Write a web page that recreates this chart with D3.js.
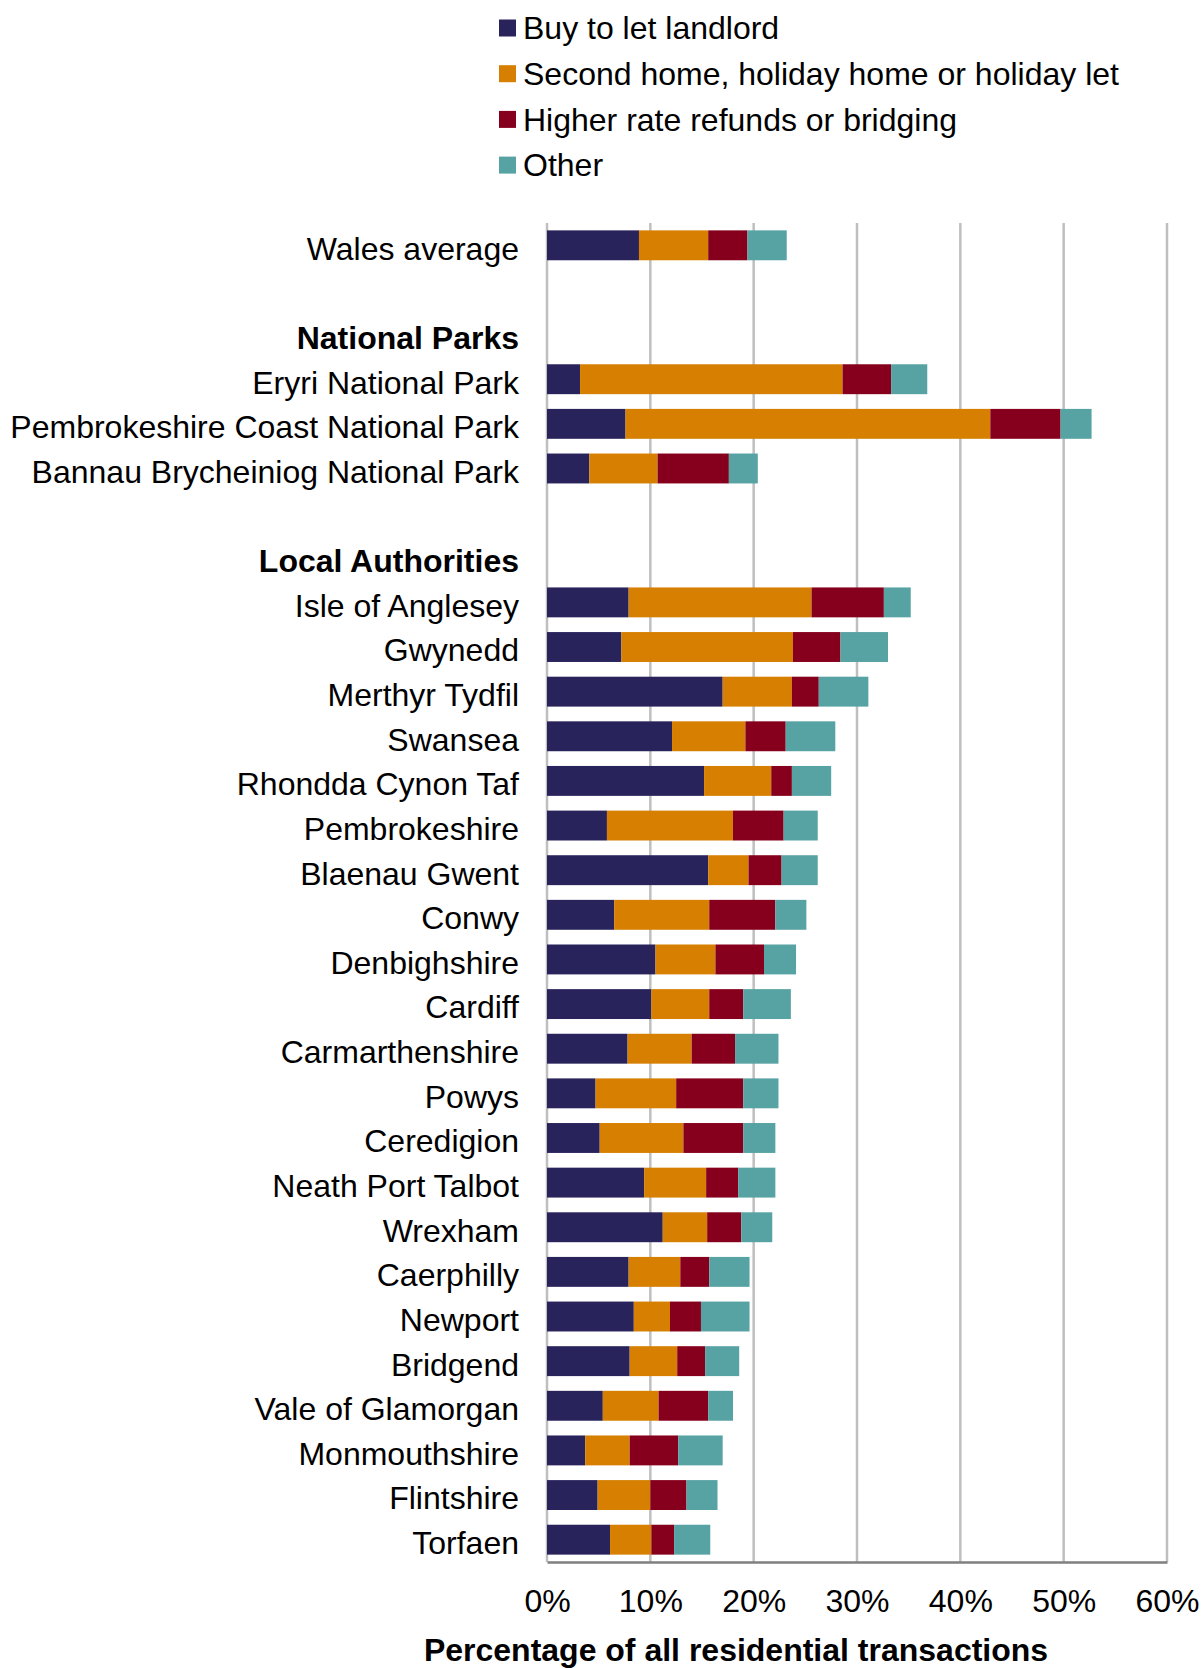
<!DOCTYPE html>
<html>
<head>
<meta charset="utf-8">
<script src="https://cdn.jsdelivr.net/npm/d3@7"></script>
<style>
  body { margin: 0; background: #fff; }
  svg { display: block; font-family: "Liberation Sans", Arial, sans-serif; }
</style>
</head>
<body>
<svg id="chart" width="1201" height="1668"></svg>
<script>
// Rows from top to bottom; "" entries are spacer rows, headers are drawn bold
const rowLabels = [
    "Wales average", "",
    "National Parks", "Eryri National Park", "Pembrokeshire Coast National Park", "Bannau Brycheiniog National Park", " ",
    "Local Authorities", "Isle of Anglesey", "Gwynedd", "Merthyr Tydfil", "Swansea", "Rhondda Cynon Taf",
    "Pembrokeshire", "Blaenau Gwent", "Conwy", "Denbighshire", "Cardiff", "Carmarthenshire", "Powys",
    "Ceredigion", "Neath Port Talbot", "Wrexham", "Caerphilly", "Newport", "Bridgend",
    "Vale of Glamorgan", "Monmouthshire", "Flintshire", "Torfaen"
];
const headers = ["National Parks", "Local Authorities"];

const areas = [
    "Wales average", "Eryri National Park", "Pembrokeshire Coast National Park", "Bannau Brycheiniog National Park",
    "Isle of Anglesey", "Gwynedd", "Merthyr Tydfil", "Swansea", "Rhondda Cynon Taf",
    "Pembrokeshire", "Blaenau Gwent", "Conwy", "Denbighshire", "Cardiff", "Carmarthenshire", "Powys",
    "Ceredigion", "Neath Port Talbot", "Wrexham", "Caerphilly", "Newport", "Bridgend",
    "Vale of Glamorgan", "Monmouthshire", "Flintshire", "Torfaen"
];

// percentages of all residential transactions
const buyToLet   = [8.9, 3.2, 7.6, 4.1, 7.9, 7.2, 17.0, 12.1, 15.2, 5.8, 15.6, 6.5, 10.5, 10.1, 7.8, 4.7, 5.1, 9.4, 11.2, 7.9, 8.4, 8.0, 5.4, 3.7, 4.9, 6.1];
const secondHome = [6.7, 25.4, 35.3, 6.6, 17.7, 16.6, 6.7, 7.1, 6.5, 12.2, 3.9, 9.2, 5.8, 5.6, 6.2, 7.8, 8.1, 6.0, 4.3, 5.0, 3.5, 4.6, 5.4, 4.3, 5.1, 4.0];
const higherRate = [3.8, 4.7, 6.8, 6.9, 7.0, 4.6, 2.6, 3.9, 2.0, 4.9, 3.2, 6.4, 4.7, 3.3, 4.2, 6.5, 5.8, 3.1, 3.3, 2.8, 3.0, 2.7, 4.8, 4.7, 3.5, 2.2];
const other      = [3.8, 3.5, 3.0, 2.8, 2.6, 4.6, 4.8, 4.8, 3.8, 3.3, 3.5, 3.0, 3.1, 4.6, 4.2, 3.4, 3.1, 3.6, 3.0, 3.9, 4.7, 3.3, 2.4, 4.3, 3.0, 3.5];

const seriesNames = ["Buy to let landlord", "Second home, holiday home or holiday let", "Higher rate refunds or bridging", "Other"];
const seriesColors = ["#29235c", "#d67f00", "#86001d", "#57a2a3"];
const xTicks = [0, 10, 20, 30, 40, 50, 60];

const data = areas.map((name, i) => ({
    name: name,
    s0: buyToLet[i], s1: secondHome[i], s2: higherRate[i], s3: other[i]
}));

const svg = d3.select("#chart");
const margin = { top: 223, right: 34, bottom: 106, left: 547 };
const width = 1201 - margin.left - margin.right;
const height = 1668 - margin.top - margin.bottom;
const fontSize = 32;

const g = svg.append("g").attr("transform", `translate(${margin.left},${margin.top})`);

const x = d3.scaleLinear().domain([0, 60]).range([0, width]);
const y = d3.scaleBand().domain(rowLabels).range([0, height]).paddingInner(0.33).paddingOuter(0.165);

// gridlines
g.append("g")
    .selectAll("line")
    .data(xTicks)
    .enter().append("line")
    .attr("x1", d => x(d)).attr("x2", d => x(d))
    .attr("y1", 0).attr("y2", height)
    .attr("stroke", "#bfbfbf")
    .attr("stroke-width", 2.5);

// stacked bars
const keys = ["s0", "s1", "s2", "s3"];
const stacked = d3.stack().keys(keys)(data);

g.selectAll(".series")
    .data(stacked)
    .enter().append("g")
    .attr("class", "series")
    .attr("fill", (d, i) => seriesColors[i])
    .selectAll("rect")
    .data(d => d)
    .enter().append("rect")
    .attr("x", d => x(d[0]))
    .attr("y", d => y(d.data.name))
    .attr("width", d => x(d[1]) - x(d[0]))
    .attr("height", y.bandwidth());

// x axis
const xAxis = g.append("g")
    .attr("transform", `translate(0,${height})`)
    .call(d3.axisBottom(x).tickValues(xTicks).tickFormat(d => d + "%").tickSize(0).tickPadding(27));
xAxis.select(".domain").attr("stroke", "#7f7f7f").attr("stroke-width", 2.5);
xAxis.selectAll("text")
    .style("font-size", fontSize + "px")
    .style("font-family", "Liberation Sans, Arial, sans-serif")
    .attr("fill", "#000");

// y axis (category labels)
const yAxis = g.append("g")
    .call(d3.axisLeft(y).tickSize(0).tickPadding(28).tickFormat(d => d.trim()));
yAxis.select(".domain").remove();
yAxis.selectAll("text")
    .attr("dy", "0.45em")
    .style("font-size", fontSize + "px")
    .style("font-family", "Liberation Sans, Arial, sans-serif")
    .style("font-weight", d => headers.includes(d) ? "bold" : "normal")
    .attr("fill", "#000");

// axis title
svg.append("text")
    .attr("x", 736)
    .attr("y", 1661)
    .attr("text-anchor", "middle")
    .style("font-size", fontSize + "px")
    .style("font-weight", "bold")
    .text("Percentage of all residential transactions");

// legend
const legend = svg.append("g").attr("transform", "translate(499,0)");
const legendItems = legend.selectAll(".legend-item")
    .data(seriesNames)
    .enter().append("g")
    .attr("class", "legend-item")
    .attr("transform", (d, i) => `translate(0,${28 + i * 45.7})`);

legendItems.append("rect")
    .attr("x", 0).attr("y", -8.5)
    .attr("width", 17).attr("height", 17)
    .attr("fill", (d, i) => seriesColors[i]);

legendItems.append("text")
    .attr("x", 24)
    .attr("dy", "0.35em")
    .style("font-size", fontSize + "px")
    .text(d => d);
</script>
</body>
</html>
